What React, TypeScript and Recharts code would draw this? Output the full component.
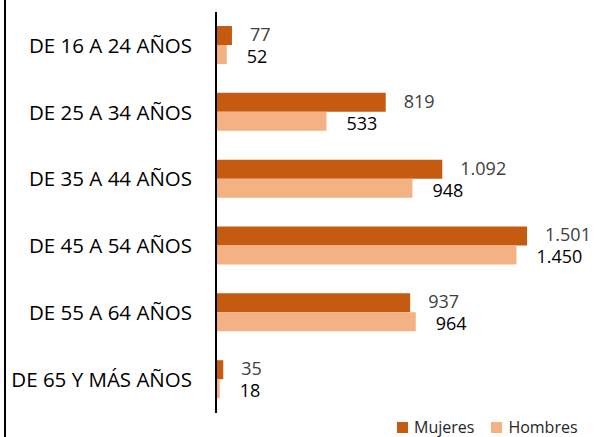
import React from "react";
import { BarChart, Bar, XAxis, YAxis, LabelList } from "recharts";

const categories = [
  "DE 16 A 24 AÑOS",
  "DE 25 A 34 AÑOS",
  "DE 35 A 44 AÑOS",
  "DE 45 A 54 AÑOS",
  "DE 55 A 64 AÑOS",
  "DE 65 Y MÁS AÑOS",
];
const mujeres = [77, 819, 1092, 1501, 937, 35];
const hombres = [52, 533, 948, 1450, 964, 18];

const data = categories.map((name, i) => ({
  name,
  mujeres: mujeres[i],
  hombres: hombres[i],
}));

const FONT = "'Open Sans', sans-serif";
const fmt = (v: any) => Number(v).toLocaleString("de-DE");

const Legend = () => (
  <div
    style={{
      position: "absolute",
      left: 397,
      top: 416,
      display: "flex",
      alignItems: "center",
      fontFamily: FONT,
      fontSize: 16,
      color: "#262626",
    }}
  >
    <span style={{ width: 11, height: 11, background: "#C55A11", display: "inline-block", marginRight: 6 }} />
    <span style={{ marginRight: 17 }}>Mujeres</span>
    <span style={{ width: 11, height: 11, background: "#F4B183", display: "inline-block", marginRight: 6 }} />
    <span>Hombres</span>
  </div>
);

export default function App() {
  return (
    <div style={{ position: "absolute", left: 0, top: 0, width: 601, height: 437, background: "#fff", overflow: "hidden" }}>
      <div style={{ position: "absolute", left: 4, top: 0, width: 2, height: 437, background: "#000" }} />
      <BarChart
        width={601}
        height={437}
        data={data}
        layout="vertical"
        margin={{ top: 12, right: 12, bottom: 24, left: 0 }}
        barCategoryGap="21%"
        barGap={0}
      >
        <XAxis type="number" domain={[0, 1800]} hide />
        <YAxis
          type="category"
          dataKey="name"
          width={216}
          tickLine={false}
          tickMargin={18}
          axisLine={{ stroke: "#000", strokeWidth: 2 }}
          tick={{ fill: "#000", fontSize: 20.5, fontFamily: FONT }}
        />
        <Bar dataKey="mujeres" fill="#C55A11" isAnimationActive={false}>
          <LabelList
            dataKey="mujeres"
            position="right"
            offset={18}
            formatter={fmt}
            dy={-1}
            style={{ fill: "#404040", fontSize: 18, fontFamily: FONT }}
          />
        </Bar>
        <Bar dataKey="hombres" fill="#F4B183" isAnimationActive={false}>
          <LabelList
            dataKey="hombres"
            position="right"
            offset={20}
            formatter={fmt}
            dy={2}
            style={{ fill: "#000", fontSize: 18, fontFamily: FONT }}
          />
        </Bar>
      </BarChart>
      <Legend />
    </div>
  );
}
